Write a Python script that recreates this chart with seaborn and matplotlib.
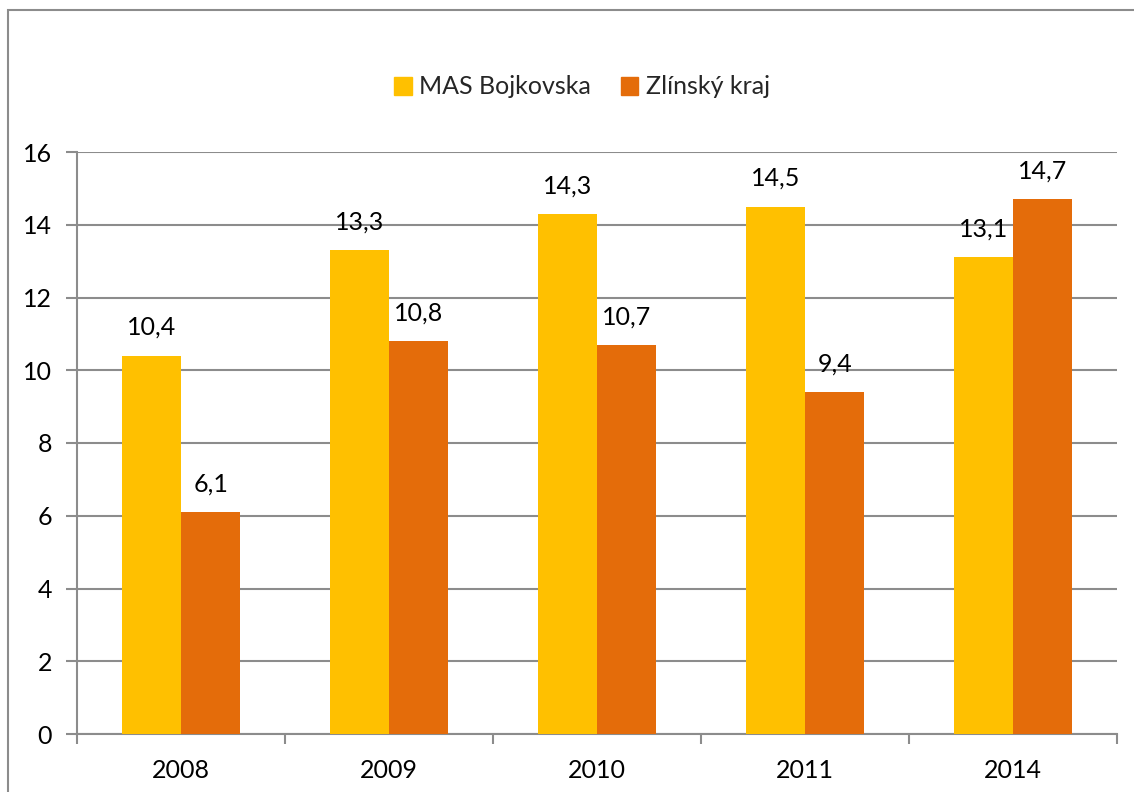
import seaborn as sns
import matplotlib.pyplot as plt
import matplotlib.patches as mpatches
import pandas as pd

years = ['2008', '2009', '2010', '2011', '2014']
mas_bojkovska = [10.4, 13.3, 14.3, 14.5, 13.1]
zlinsky_kraj = [6.1, 10.8, 10.7, 9.4, 14.7]
series_names = ['MAS Bojkovska', 'Zlínský kraj']

df = pd.DataFrame({
    'rok': years * 2,
    'hodnota': mas_bojkovska + zlinsky_kraj,
    'serie': [series_names[0]] * len(years) + [series_names[1]] * len(years),
})

sns.set_theme(style='white')
plt.rcParams['font.family'] = ['Lato', 'DejaVu Sans']

W, H = 1134, 792
fig = plt.figure(figsize=(W / 100, H / 100), dpi=100)
ax = fig.add_axes([77 / W, 1 - 734 / H, (1117 - 77) / W, (734 - 152) / H])

palette = {series_names[0]: '#FFC000', series_names[1]: '#E46C0A'}
sns.barplot(df, x='rok', y='hodnota', hue='serie', palette=palette,
            width=0.57, saturation=1, linewidth=0, ax=ax, legend=False,
            zorder=3)

# data labels with decimal comma
for cont in ax.containers:
    labels = [f'{b.get_height():.1f}'.replace('.', ',') for b in cont]
    ax.bar_label(cont, labels=labels, padding=12, fontsize=18, color='#000000')

ax.set_ylim(0, 16)
ax.set_yticks(range(0, 17, 2))
ax.set_xlim(-0.5, len(years) - 0.5)
ax.set_xlabel('')
ax.set_ylabel('')

grid_c = '#8c8c8c'
ax.yaxis.grid(True, color=grid_c, linewidth=1.5, zorder=0)
ax.set_axisbelow(True)
for s in ['top', 'right']:
    ax.spines[s].set_visible(False)
for s in ['left', 'bottom']:
    ax.spines[s].set_color(grid_c)
    ax.spines[s].set_linewidth(1.5)

# y ticks stick out left, x ticks at category boundaries
ax.tick_params(axis='y', left=True, length=8, width=1.5, color=grid_c,
               labelsize=18, pad=10, labelcolor='#000000')
ax.set_xticks([i - 0.5 for i in range(len(years) + 1)], minor=True)
ax.tick_params(axis='x', which='minor', bottom=True, length=7, width=1.5,
               color=grid_c)
ax.tick_params(axis='x', which='major', bottom=False, labelsize=18,
               pad=12, labelcolor='#000000')

handles = [mpatches.Patch(color=palette[n], label=n) for n in series_names]
fig.legend(handles=handles, loc='center', bbox_to_anchor=(582 / W, 1 - 87 / H),
           ncol=2, frameon=False, fontsize=18, handlelength=0.7,
           handleheight=0.7, handletextpad=0.3, columnspacing=1.2)

# outer chart frame (cropped at right and bottom)
frame = mpatches.Rectangle((8 / W, -0.1), 1.2, 1 - 10 / H + 0.1,
                           transform=fig.transFigure, fill=False,
                           edgecolor=grid_c, linewidth=1.5)
fig.patches.append(frame)

fig.savefig('out.png', dpi=100)
